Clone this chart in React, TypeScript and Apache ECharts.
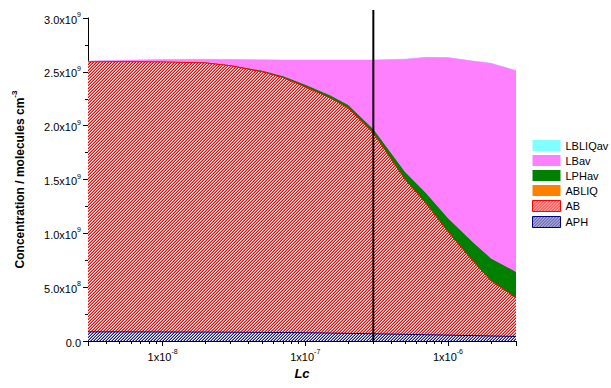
import { useEffect, useRef } from 'react';
import * as echarts from 'echarts';

// Lc (x) values
const lc = [3e-9, 5e-9, 1e-8, 2e-8, 3e-8, 5e-8, 7e-8, 1e-7, 1.5e-7, 2e-7, 3e-7, 5e-7, 7e-7, 1e-6, 1.5e-6, 2e-6, 3e-6];
// Series values (molecules cm^-3), stacked bottom to top
const APH = [0.085e9, 0.085e9, 0.084e9, 0.083e9, 0.082e9, 0.080e9, 0.079e9, 0.077e9, 0.074e9, 0.071e9, 0.067e9, 0.062e9, 0.058e9, 0.055e9, 0.050e9, 0.047e9, 0.042e9];
const AB = [2.507e9, 2.509e9, 2.508e9, 2.500e9, 2.474e9, 2.420e9, 2.366e9, 2.283e9, 2.181e9, 2.091e9, 1.865e9, 1.438e9, 1.222e9, 0.959e9, 0.690e9, 0.513e9, 0.358e9];
const ABLIQ = [0, 0, 0, 0, 0, 0, 0, 0, 0, 0, 0, 0, 0, 0, 0, 0, 0];
const LPHav = [0.001e9, 0.001e9, 0.002e9, 0.003e9, 0.005e9, 0.010e9, 0.015e9, 0.020e9, 0.025e9, 0.030e9, 0.035e9, 0.070e9, 0.095e9, 0.125e9, 0.176e9, 0.207e9, 0.242e9];
const LBav = [0.007e9, 0.013e9, 0.020e9, 0.030e9, 0.054e9, 0.102e9, 0.150e9, 0.230e9, 0.330e9, 0.418e9, 0.643e9, 1.048e9, 1.260e9, 1.493e9, 1.684e9, 1.813e9, 1.870e9];
const LBLIQav = [0, 0, 0, 0, 0, 0, 0, 0, 0, 0, 0, 0, 0, 0, 0, 0, 0];

const legendOrder = ['LBLIQav', 'LBav', 'LPHav', 'ABLIQ', 'AB', 'APH'];
const markerLc = 3e-7;
const markerTop = 3.075e9;

const FONT = 'Arial, "Liberation Sans", sans-serif';

function hatch(main: string, light: string) {
  let rects = '<rect x="0" y="0" width="6" height="6" fill="#ffffff"/>';
  for (let y = 0; y < 6; y++) {
    for (let x = 0; x < 6; x++) {
      const k = (x + y) % 3;
      if (k === 2) rects += `<rect x="${x}" y="${y}" width="1" height="1" fill="${main}"/>`;
      else if (k === 1) rects += `<rect x="${x}" y="${y}" width="1" height="1" fill="${light}"/>`;
    }
  }
  const svg = `<svg xmlns="http://www.w3.org/2000/svg" width="6" height="6" shape-rendering="crispEdges">${rects}</svg>`;
  const url = 'data:image/svg+xml;charset=utf-8,' + encodeURIComponent(svg);
  return { image: url, repeat: 'repeat', imageWidth: 6, imageHeight: 6 } as any;
}

export default function App() {
  const ref = useRef<HTMLDivElement>(null);
  useEffect(() => {
    if (!ref.current) return;
    const chart = echarts.init(ref.current, null, { renderer: 'svg' });
    const redHatch = hatch('#ff0000', '#ff7070');
    const blueHatch = hatch('#1a1a8c', '#8a8ac8');

    // cumulative stacking (bottom to top)
    const layers = [APH, AB, ABLIQ, LPHav, LBav, LBLIQav];
    const cum: number[][] = [];
    layers.forEach((arr, k) => {
      cum.push(arr.map((v, i) => v + (k > 0 ? cum[k - 1][i] : 0)));
    });
    const pairs = (vals: number[]) => lc.map((x, i) => [x, vals[i]]);

    const mk = (name: string, vals: number[], fill: any, line: string, lw: number, z: number) => ({
      name,
      type: 'line',
      data: pairs(vals),
      showSymbol: false,
      symbol: 'none',
      z,
      lineStyle: { color: line, width: lw },
      itemStyle: { color: line },
      areaStyle: { color: fill, opacity: 1 },
      emphasis: { disabled: true },
    });

    chart.setOption({
      animation: false,
      backgroundColor: '#ffffff',
      grid: { left: 88, right: 95, top: 18, bottom: 47, containLabel: false },
      legend: {
        orient: 'vertical',
        left: 527,
        top: 135,
        icon: 'rect',
        itemWidth: 28,
        itemHeight: 11,
        itemGap: 4,
        textStyle: { fontFamily: FONT, fontSize: 11, color: '#000' },
        data: [
          { name: 'LBLIQav', itemStyle: { color: '#80ffff', borderWidth: 0 } },
          { name: 'LBav', itemStyle: { color: '#ff80ff', borderWidth: 0 } },
          { name: 'LPHav', itemStyle: { color: '#008000', borderWidth: 0 } },
          { name: 'ABLIQ', itemStyle: { color: '#ff8000', borderWidth: 0 } },
          { name: 'AB', itemStyle: { color: redHatch, borderColor: '#ff0000', borderWidth: 1 } },
          { name: 'APH', itemStyle: { color: blueHatch, borderColor: '#000080', borderWidth: 1 } },
        ].sort((a, b) => legendOrder.indexOf(a.name) - legendOrder.indexOf(b.name)),
      },
      xAxis: {
        type: 'log',
        logBase: 10,
        min: 3e-9,
        max: 3e-6,
        name: 'Lc',
        nameLocation: 'middle',
        nameGap: 24,
        nameTextStyle: { fontFamily: FONT, fontSize: 13, fontWeight: 'bold', fontStyle: 'italic', color: '#000' },
        axisLine: { show: true, onZero: false, lineStyle: { color: '#000', width: 1 } },
        axisTick: { show: true, inside: false, length: 5, lineStyle: { color: '#000' } },
        minorTick: { show: true, splitNumber: 9, length: 3, lineStyle: { color: '#000' } },
        splitLine: { show: false },
        minorSplitLine: { show: false },
        axisLabel: {
          margin: 7,
          showMinLabel: false,
          showMaxLabel: false,
          formatter: (v: number) => {
            const l = Math.log10(v);
            const r = Math.round(l);
            if (Math.abs(l - r) > 1e-6) return '';
            return `{b|1x10}{s|${r}}`;
          },
          rich: {
            b: { fontFamily: FONT, fontSize: 11, color: '#000', lineHeight: 14, verticalAlign: 'bottom' },
            s: { fontFamily: FONT, fontSize: 7, color: '#000', lineHeight: 8, verticalAlign: 'top' },
          },
        },
      },
      yAxis: {
        type: 'value',
        min: 0,
        max: 3e9,
        interval: 5e8,
        name: '{b|Concentration / molecules cm}{s|-3}',
        nameLocation: 'middle',
        nameGap: 62,
        nameRotate: 90,
        nameTextStyle: {
          rich: {
            b: { fontFamily: FONT, fontSize: 12, fontWeight: 'bold', color: '#000', lineHeight: 16, verticalAlign: 'bottom' },
            s: { fontFamily: FONT, fontSize: 8, fontWeight: 'bold', color: '#000', lineHeight: 9, verticalAlign: 'top' },
          },
        },
        axisLine: { show: true, lineStyle: { color: '#000', width: 1 } },
        axisTick: { show: true, inside: false, length: 5, lineStyle: { color: '#000' } },
        minorTick: { show: true, splitNumber: 2, length: 3, lineStyle: { color: '#000' } },
        splitLine: { show: false },
        axisLabel: {
          margin: 7,
          formatter: (v: number) => {
            if (v === 0) return '{b|0.0}';
            const e = Math.floor(Math.log10(v) + 1e-9);
            const m = v / Math.pow(10, e);
            return `{b|${m.toFixed(1)}x10}{s|${e}}`;
          },
          rich: {
            b: { fontFamily: FONT, fontSize: 11, color: '#000', lineHeight: 14, verticalAlign: 'bottom' },
            s: { fontFamily: FONT, fontSize: 7, color: '#000', lineHeight: 8, verticalAlign: 'top' },
          },
        },
      },
      series: [
        mk('LBLIQav', cum[5], '#80ffff', '#c8b0ff', 0.6, 2),
        mk('LBav', cum[4], '#ff80ff', '#ff80ff', 0, 3),
        mk('LPHav', cum[3], '#008000', '#008000', 0, 4),
        mk('ABLIQ', cum[2], '#ff8000', '#ff8000', 0, 5),
        mk('AB', cum[1], redHatch, '#ff0000', 1, 6),
        mk('APH', cum[0], blueHatch, '#000080', 1, 7),
      ],
    });

    const px = chart.convertToPixel({ xAxisIndex: 0 }, markerLc) as number;
    const y0 = chart.convertToPixel({ yAxisIndex: 0 }, 0) as number;
    const y1 = chart.convertToPixel({ yAxisIndex: 0 }, markerTop) as number;
    chart.setOption({
      graphic: [
        {
          type: 'line',
          shape: { x1: px, y1: y1, x2: px, y2: y0 },
          style: { stroke: '#000', lineWidth: 2 },
          z: 100,
        },
      ],
    });

    return () => chart.dispose();
  }, []);
  return <div ref={ref} style={{ width: 611, height: 388, position: 'absolute', left: 0, top: 0 }} />;
}
